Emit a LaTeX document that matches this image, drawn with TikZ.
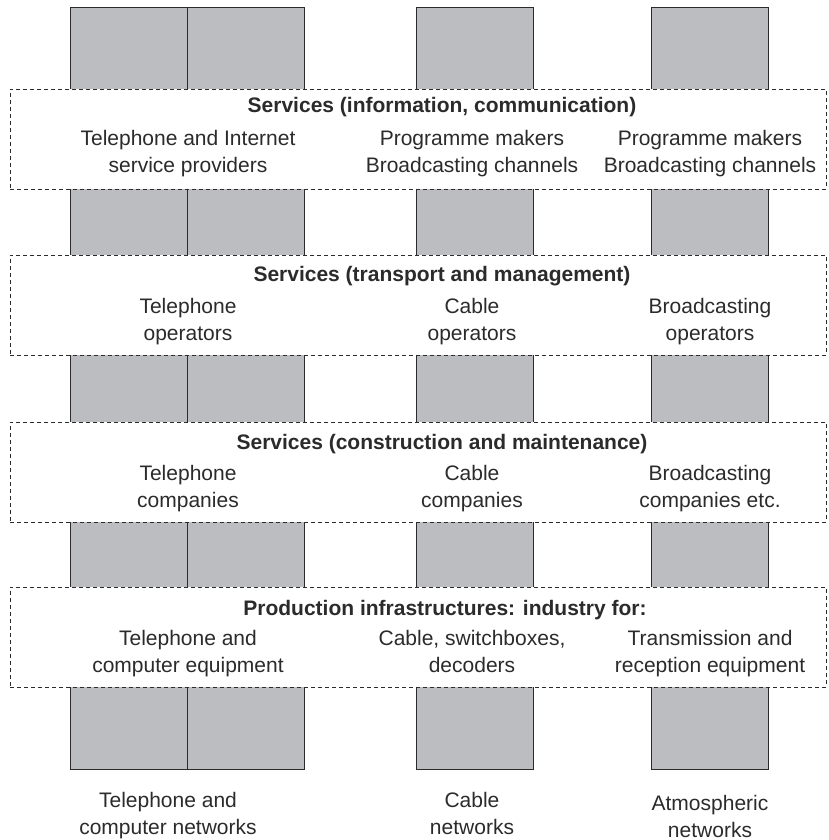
\documentclass[tikz,border=0pt]{standalone}
\usepackage{fontspec}
\setmainfont{Liberation Sans}
\definecolor{pillargray}{HTML}{BCBDC0}
\definecolor{inkgray}{HTML}{2B2B2B}

\begin{document}
\begin{tikzpicture}[x=1pt, y=-1pt,
    every node/.style={inner sep=0pt, text=inkgray, font=\fontsize{21}{27}\selectfont},
    pillar/.style={draw=inkgray, line width=0.9pt, fill=pillargray, minimum width=117pt, minimum height=762pt},
    layer/.style={draw=inkgray, line width=0.8pt, dash pattern=on 4pt off 3pt, fill=white, minimum width=816pt, minimum height=100pt},
    head/.style={anchor=base, font=\fontsize{21}{27}\selectfont\bfseries},
    cell/.style={anchor=north, align=center}]
    \useasboundingbox (0,0) rectangle (829,840);

    % Pillars.
    \node[pillar] (telA) at (128.5,388) {};
    \node[pillar] (telB) at (245.5,388) {};
    \node[pillar] (cab)  at (474.5,388) {};
    \node[pillar] (atm)  at (709.5,388) {};

    % Layers.
    \node[layer] (info)  at (418,139) {};
    \node[layer] (trans) at (418,305) {};
    \node[layer] (build) at (418,472) {};
    \node[layer] (prod)  at (418,637) {};

    % Services (information, communication).
    \node[head] (infoHead) at (442,113) {Services (information, communication)};
    \node[cell] (infoTel) at (188,126) {\strut Telephone and Internet\\\strut service providers};
    \node[cell] (infoCab) at (472,126) {\strut Programme makers\\\strut Broadcasting channels};
    \node[cell] (infoAtm) at (710,126) {\strut Programme makers\\\strut Broadcasting channels};

    % Services (transport and management).
    \node[head] (transHead) at (442,281) {Services (transport and management)};
    \node[cell] (transTel) at (188,294) {\strut Telephone\\\strut operators};
    \node[cell] (transCab) at (472,294) {\strut Cable\\\strut operators};
    \node[cell] (transAtm) at (710,294) {\strut Broadcasting\\\strut operators};

    % Services (construction and maintenance).
    \node[head] (buildHead) at (442,449) {Services (construction and maintenance)};
    \node[cell] (buildTel) at (188,461) {\strut Telephone\\\strut companies};
    \node[cell] (buildCab) at (472,461) {\strut Cable\\\strut companies};
    \node[cell] (buildAtm) at (710,461) {\strut Broadcasting\\\strut companies etc.};

    % Production infrastructures.
    \node[head] (prodHead) at (445,615) {Production infrastructures: industry for:};
    \node[cell] (prodTel) at (188,626) {\strut Telephone and\\\strut computer equipment};
    \node[cell] (prodCab) at (472,626) {\strut Cable, switchboxes,\\\strut decoders};
    \node[cell] (prodAtm) at (710,626) {\strut Transmission and\\\strut reception equipment};

    % Networks.
    \node[cell] (netTel) at (168,788) {\strut Telephone and\\\strut computer networks};
    \node[cell] (netCab) at (472,788) {\strut Cable\\\strut networks};
    \node[cell] (netAtm) at (710,791) {\strut Atmospheric\\\strut networks};

\end{tikzpicture}
\end{document}
